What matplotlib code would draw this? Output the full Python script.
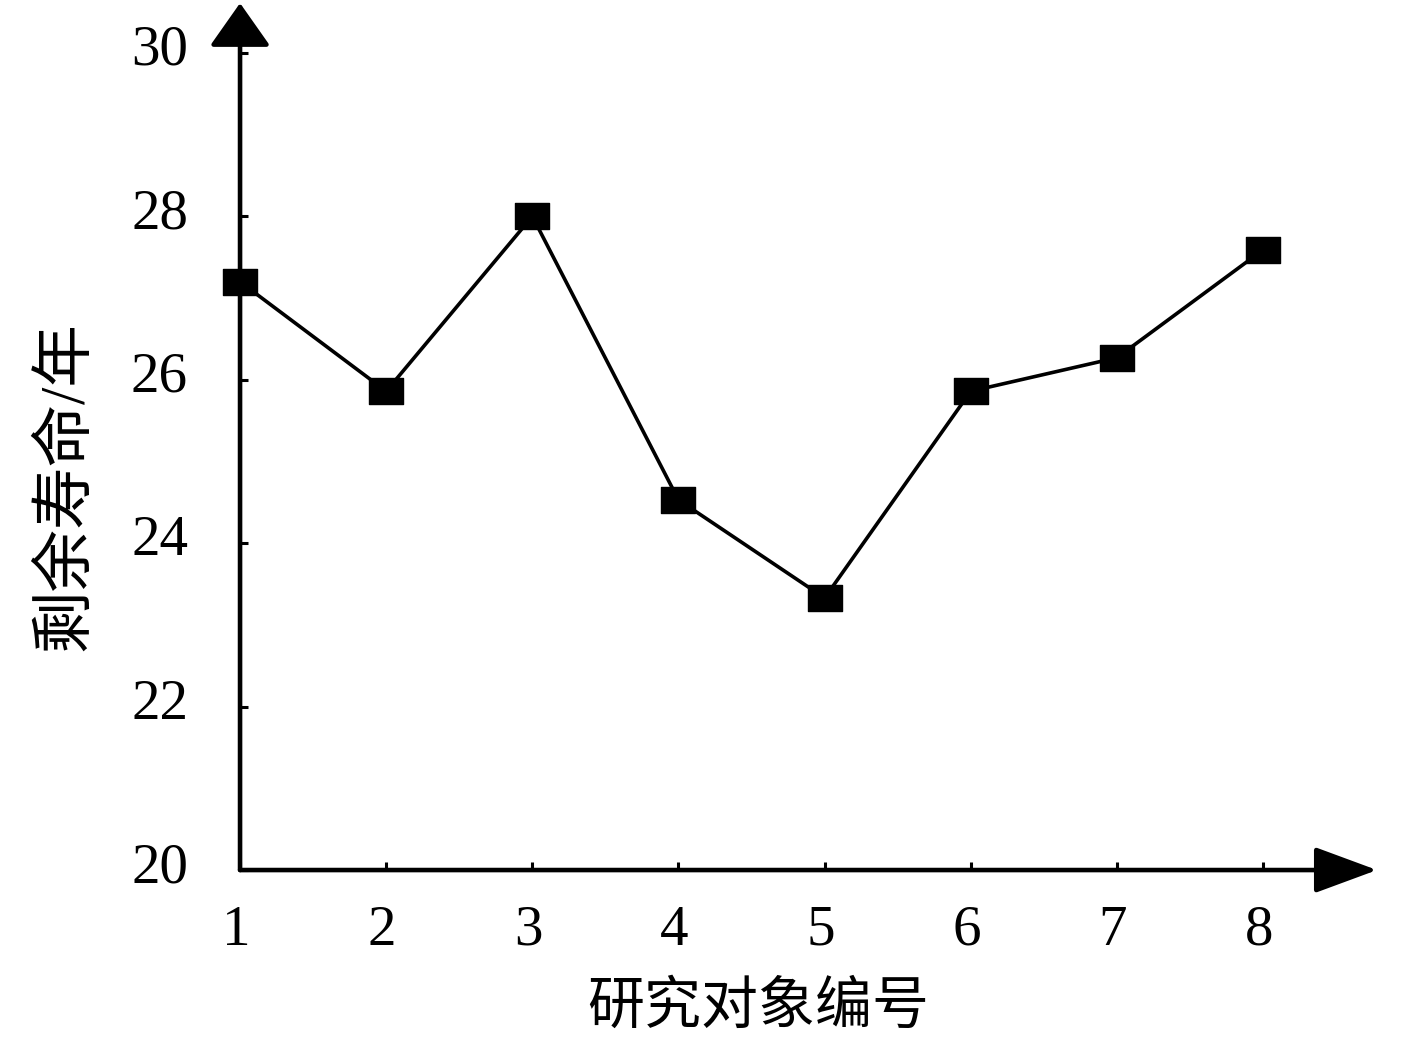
import numpy as np
import matplotlib
matplotlib.use('Agg')
import matplotlib.pyplot as plt
from matplotlib.path import Path
from matplotlib.transforms import ScaledTranslation

plt.rcParams['font.family'] = ['Liberation Serif', 'Noto Sans CJK SC']

# 研究对象编号 vs 剩余寿命
ids = [1, 2, 3, 4, 5, 6, 7, 8]
life = [27.2, 25.86, 28.0, 24.53, 23.33, 25.86, 26.27, 27.59]

xticks = [1, 2, 3, 4, 5, 6, 7, 8]
yticks = [20, 22, 24, 26, 28, 30]
xlabel = '研究对象编号'
ylabel = '剩余寿命/年'

fig = plt.figure(figsize=(14.17, 10.37), dpi=100)
ax = fig.add_axes([0.1694, 0.161, 0.8024, 0.836])

# slightly flat square marker
rect = Path([(-1, -0.76), (1, -0.76), (1, 0.76), (-1, 0.76), (-1, -0.76)],
            [Path.MOVETO, Path.LINETO, Path.LINETO, Path.LINETO, Path.CLOSEPOLY])
ax.plot(ids, life, color='black', lw=2.6, marker=rect, markersize=24,
        markerfacecolor='black', markeredgecolor='black', clip_on=False, zorder=5)

ax.set_xlim(1, 8.78)
ax.set_ylim(20, 30.61)
ax.set_xticks(xticks)
ax.set_yticks(yticks)

for s in ax.spines.values():
    s.set_visible(False)

# axis lines with arrow heads
ax.annotate('', xy=(0, 1), xytext=(0, 0), xycoords='axes fraction',
            arrowprops=dict(arrowstyle='-|>,head_length=1.35,head_width=0.95',
                            mutation_scale=20, lw=3.3, color='black',
                            shrinkA=0, shrinkB=0), annotation_clip=False)
ax.annotate('', xy=(1, 0), xytext=(0, 0), xycoords='axes fraction',
            arrowprops=dict(arrowstyle='-|>,head_length=1.95,head_width=0.72',
                            mutation_scale=20, lw=3.3, color='black',
                            shrinkA=0, shrinkB=0), annotation_clip=False)

ax.tick_params(axis='both', direction='in', length=6, width=2.2, labelsize=41)
ax.tick_params(axis='x', pad=25)
ax.tick_params(axis='y', pad=36)

# nudge tick labels a little, as in the original
for t in ax.yaxis.get_major_ticks():
    t.label1.set_transform(t.label1.get_transform() + ScaledTranslation(-0.02, 0.08, fig.dpi_scale_trans))
for t in ax.xaxis.get_major_ticks():
    t.label1.set_transform(t.label1.get_transform() + ScaledTranslation(-0.04, 0.0, fig.dpi_scale_trans))

ax.set_xlabel(xlabel, fontsize=41)
ax.set_ylabel(ylabel, fontsize=45)
ax.xaxis.set_label_coords(0.456, -0.159)
ax.yaxis.set_label_coords(-0.152, 0.443)
ax.xaxis.label.set_va('center')
ax.yaxis.label.set_va('center')

fig.savefig('out.png', dpi=100)
